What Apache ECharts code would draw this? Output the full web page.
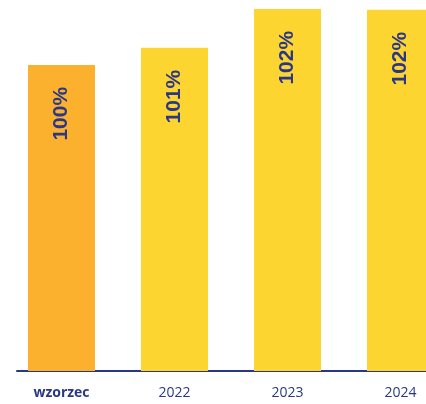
<!DOCTYPE html>
<html>
<head>
<meta charset="utf-8">
<script src="https://cdn.jsdelivr.net/npm/echarts@6/dist/echarts.min.js"></script>
<style>
  html, body { margin: 0; padding: 0; background: #fff; }
  #main { width: 426px; height: 404px; }
</style>
</head>
<body>
<div id="main"></div>
<script>
// dane
const categories = ['wzorzec', '2022', '2023', '2024'];
const values = [100, 105.6, 118.3, 118.0];   // wysokość słupków (wzorzec = 100)
const valueLabels = ['100%', '101%', '102%', '102%'];
const barColors = ['#FCB12E', '#FDD531', '#FDD531', '#FDD531'];

const navy = '#2A3786';

let chart = echarts.init(document.getElementById('main'));

let option = {
  animation: false,
  grid: [
    // ostatni słupek wychodzi poza obraz
    { left: 5, width: 452, top: 0, bottom: 33, outerBoundsMode: 'none', containLabel: false },
    // tylko dla linii osi
    { left: 17, right: 0, top: 0, bottom: 33, outerBoundsMode: 'none' }
  ],
  xAxis: [
    {
      type: 'category',
      gridIndex: 0,
      data: categories,
      axisLine: { show: false },
      axisTick: { show: false },
      axisLabel: {
        margin: 15,
        fontFamily: 'Open Sans',
        fontSize: 14,
        color: navy,
        formatter: function (v) {
          return v === 'wzorzec' ? '{b|' + v + '}' : v;
        },
        rich: {
          b: { fontFamily: 'Open Sans', fontSize: 14, fontWeight: 'bold', color: navy }
        }
      }
    },
    {
      type: 'value',
      gridIndex: 1,
      axisLine: { show: true, onZero: false, lineStyle: { color: navy, width: 2 } },
      axisTick: { show: false },
      axisLabel: { show: false },
      splitLine: { show: false }
    }
  ],
  yAxis: [
    {
      type: 'value',
      gridIndex: 0,
      min: 0,
      max: 121.2,
      show: false
    },
    { type: 'value', gridIndex: 1, show: false }
  ],
  series: [
    {
      type: 'bar',
      xAxisIndex: 0,
      yAxisIndex: 0,
      barWidth: 67,
      data: values.map((v, i) => ({ value: v, itemStyle: { color: barColors[i] } })),
      label: {
        show: true,
        position: 'insideTop',
        distance: 25,
        rotate: 90,
        align: 'right',
        verticalAlign: 'middle',
        offset: [3, 0],
        fontFamily: '"Liberation Sans", Arial, sans-serif',
        fontWeight: 'bold',
        fontSize: 21,
        color: navy,
        formatter: p => valueLabels[p.dataIndex]
      }
    }
  ]
};

chart.setOption(option);
</script>
</body>
</html>
